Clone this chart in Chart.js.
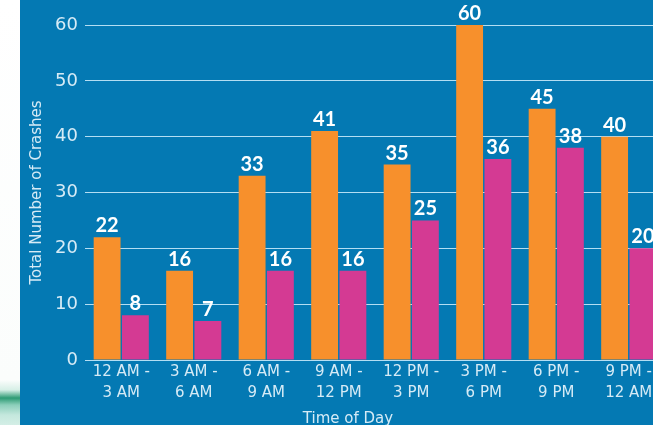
<!DOCTYPE html>
<html>
<head>
<meta charset="utf-8">
<script src="https://cdn.jsdelivr.net/npm/chart.js@4.4.1/dist/chart.umd.min.js"></script>
<style>
  html, body { margin: 0; padding: 0; }
  body {
    width: 653px; height: 425px; overflow: hidden; position: relative;
    background: #fff;
  }
  #edge {
    position: absolute; left: 0; top: 0; width: 20px; height: 425px;
    background: linear-gradient(to bottom, #fff 0px, #fbfdfc 380px, #d6efe6 390px,
      #2e9b74 398px, #8ccfba 405px, #c4e8dd 415px, #d3eee6 425px);
  }
  #wrap {
    position: absolute; left: 20px; top: 0; width: 665px; height: 425px;
    background: #0479b3;
  }
</style>
</head>
<body>
<div id="edge"></div>
<div id="wrap"><canvas id="crashChart"></canvas></div>
<script>
const timeSlots = ['12 AM - 3 AM', '3 AM - 6 AM', '6 AM - 9 AM', '9 AM - 12 PM',
                   '12 PM - 3 PM', '3 PM - 6 PM', '6 PM - 9 PM', '9 PM - 12 AM'];
const seriesOne = [22, 16, 33, 41, 35, 60, 45, 40];
const seriesTwo = [8, 7, 16, 16, 25, 36, 38, 20];
const yTicks = [0, 10, 20, 30, 40, 50, 60];

const tickColor = '#d6ebf6';
const axisFont = '"DejaVu Sans", sans-serif';
const valueFont = 'Lato, "DejaVu Sans", sans-serif';

// break "12 AM - 3 AM" into two lines under each group
const labels = timeSlots.map(s => {
  const [from, to] = s.split(' - ');
  return [from + ' -', to];
});

// numbers above every bar
const barValues = {
  id: 'barValues',
  afterDatasetsDraw(chart) {
    const ctx = chart.ctx;
    ctx.save();
    ctx.fillStyle = '#ffffff';
    ctx.font = 'bold 20px ' + valueFont;
    ctx.textAlign = 'center';
    ctx.textBaseline = 'alphabetic';
    chart.data.datasets.forEach((ds, i) => {
      chart.getDatasetMeta(i).data.forEach((bar, j) => {
        ctx.fillText(ds.data[j], bar.x, bar.y - 5);
      });
    });
    ctx.restore();
  }
};

// x axis title sits a little left of centre
const xTitle = {
  id: 'xTitle',
  afterDraw(chart) {
    const ctx = chart.ctx;
    ctx.save();
    ctx.fillStyle = tickColor;
    ctx.font = '15px ' + axisFont;
    ctx.textAlign = 'center';
    ctx.textBaseline = 'alphabetic';
    ctx.fillText('Time of Day', chart.chartArea.left + 263, 423);
    ctx.restore();
  }
};

new Chart(document.getElementById('crashChart'), {
  type: 'bar',
  data: {
    labels: labels,
    datasets: [
      { label: 'Series 1', data: seriesOne, backgroundColor: '#f7902c' },
      { label: 'Series 2', data: seriesTwo, backgroundColor: '#d43a93' }
    ]
  },
  options: {
    responsive: true,
    maintainAspectRatio: false,
    animation: false,
    categoryPercentage: 0.78,
    barPercentage: 0.95,
    layout: { padding: { top: 25, right: 20, left: 0, bottom: 0 } },
    plugins: {
      legend: { display: false },
      tooltip: { enabled: false }
    },
    scales: {
      x: {
        grid: { display: false, drawTicks: false },
        border: { display: false },
        ticks: {
          color: tickColor,
          font: { family: axisFont, size: 15, lineHeight: 1.4 },
          padding: 2,
          maxRotation: 0,
          autoSkip: false
        },
        afterFit(scale) { scale.height = 65; }
      },
      y: {
        min: 0,
        max: 60,
        afterBuildTicks(scale) { scale.ticks = yTicks.map(v => ({ value: v })); },
        grid: { color: '#b4def3', lineWidth: 1, drawTicks: false },
        border: { display: false },
        ticks: {
          color: tickColor,
          font: { family: axisFont, size: 18 },
          padding: 7
        },
        title: {
          display: true,
          text: 'Total Number of Crashes',
          color: tickColor,
          font: { family: axisFont, size: 15 },
          padding: { top: 8, bottom: 0 }
        },
        afterFit(scale) { scale.width = 65; }
      }
    }
  },
  plugins: [barValues, xTitle]
});
</script>
</body>
</html>
